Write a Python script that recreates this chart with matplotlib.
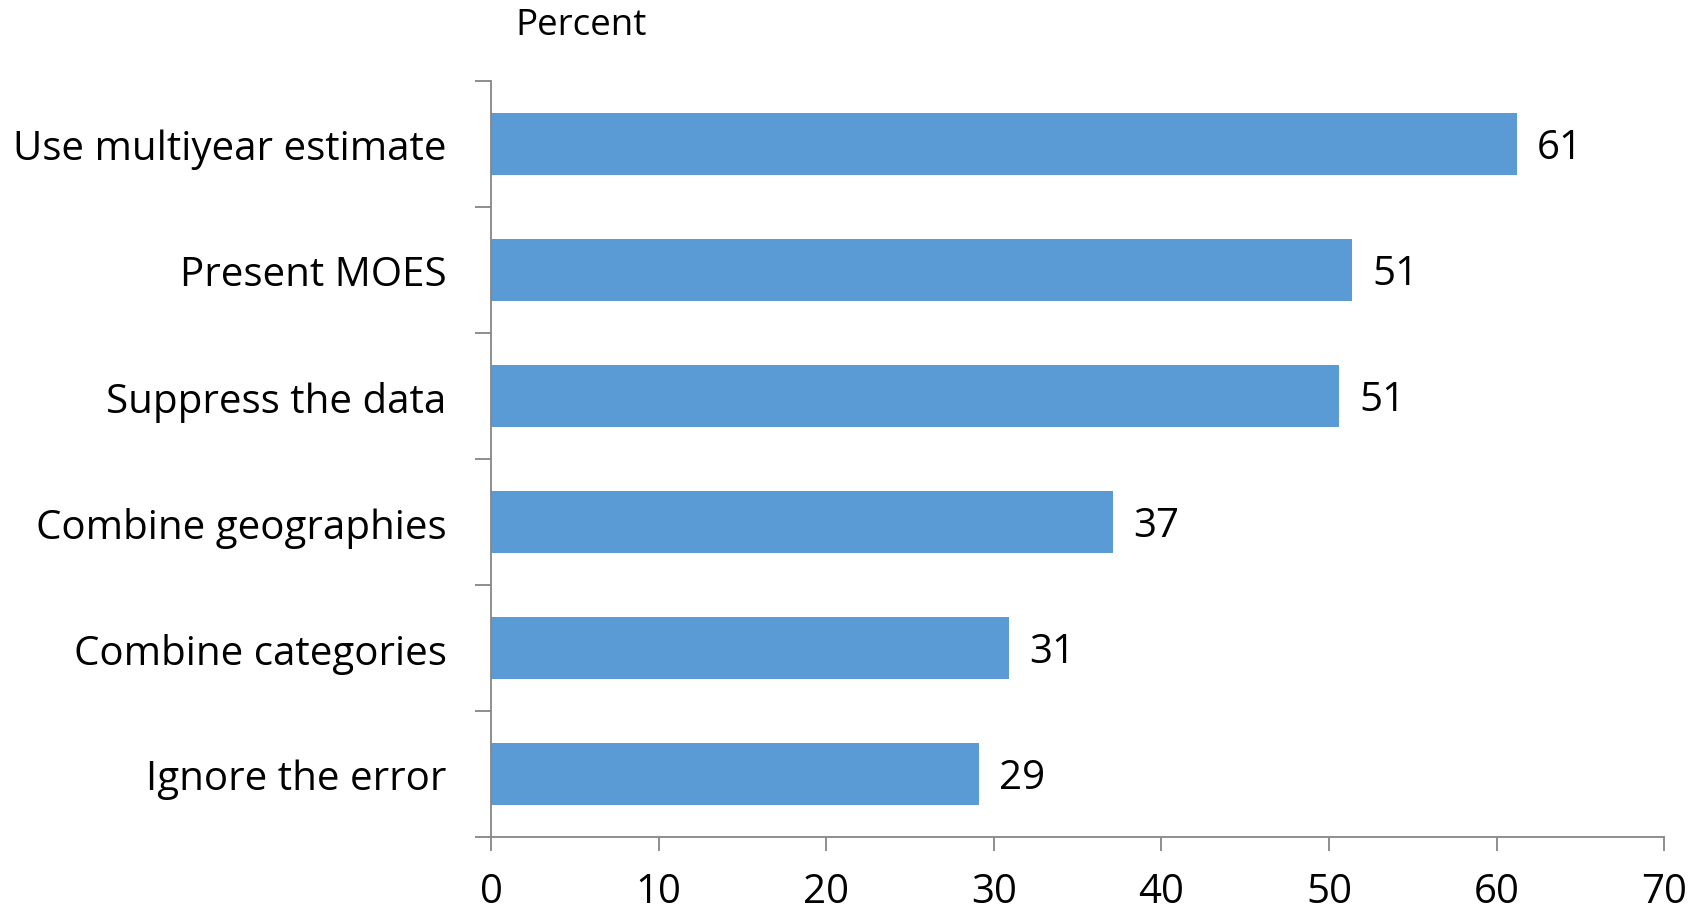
"""Horizontal bar chart: how users handle unreliable estimates (percent)."""

import matplotlib

matplotlib.use("Agg")
import matplotlib.pyplot as plt
import numpy as np

CATEGORIES = [
    "Use multiyear estimate",
    "Present MOES",
    "Suppress the data",
    "Combine geographies",
    "Combine categories",
    "Ignore the error",
]
PERCENTS = [61.2, 51.4, 50.6, 37.1, 30.9, 29.1]
VALUE_LABELS = ["61", "51", "51", "37", "31", "29"]
X_TICKS = [0, 10, 20, 30, 40, 50, 60, 70]

BAR_COLOR = "#5B9BD5"
AXIS_COLOR = "#868686"
FS = 29

plt.rcParams["font.family"] = ["Open Sans", "DejaVu Sans"]

fig = plt.figure(figsize=(17.01, 9.12), dpi=100)
ax = fig.add_axes([0.2887, 0.0811, 0.6896, 0.8290])

y_pos = np.arange(len(CATEGORIES))
ax.barh(y_pos, PERCENTS, height=0.49, color=BAR_COLOR, zorder=2)

for y, val, lab in zip(y_pos, PERCENTS, VALUE_LABELS):
    ax.annotate(
        lab,
        xy=(val, y),
        xytext=(14.5, -2.5),
        textcoords="offset points",
        va="center",
        ha="left",
        fontsize=FS,
        color="black",
    )

ax.set_xlim(0, 70)
ax.set_ylim(len(CATEGORIES) - 0.5, -0.5)
ax.set_xticks(X_TICKS)
ax.set_xticklabels([str(t) for t in X_TICKS], fontsize=FS)

# category boundaries carry the tick marks, centres carry the labels
ax.set_yticks(np.arange(len(CATEGORIES) + 1) - 0.5)
ax.set_yticklabels([])
ax.set_yticks(y_pos, minor=True)
ax.set_yticklabels(CATEGORIES, minor=True, fontsize=FS)
ax.tick_params(axis="y", which="minor", length=0, pad=32)
ax.tick_params(axis="y", which="major", length=11.5, width=1.3, color=AXIS_COLOR)
ax.tick_params(axis="x", length=10, width=1.3, color=AXIS_COLOR, pad=15)

for side in ("top", "right"):
    ax.spines[side].set_visible(False)
for side in ("left", "bottom"):
    ax.spines[side].set_color(AXIS_COLOR)
    ax.spines[side].set_linewidth(1.3)

fig.text(515 / 1701, 1 - 26 / 912, "Percent", fontsize=26.5, va="center", ha="left")

fig.savefig("out.png", dpi=100)
